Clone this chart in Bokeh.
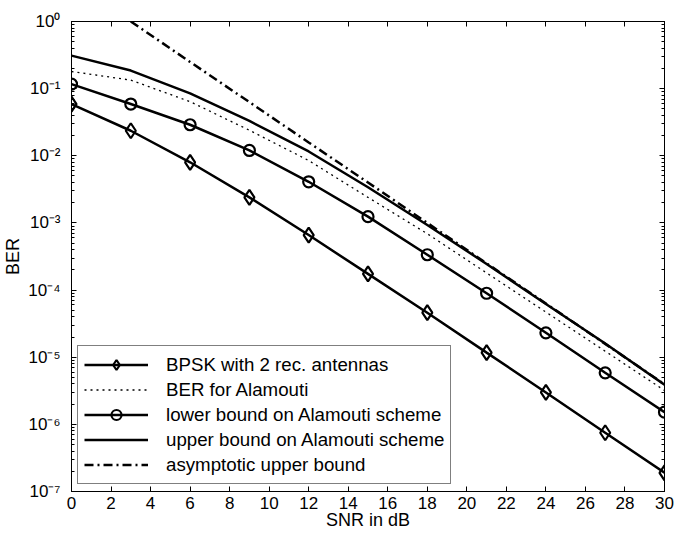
from bokeh.plotting import figure
from bokeh.models import (FixedTicker, LinearAxis, LogAxis, CustomJSTickFormatter,
                          Legend, LegendItem, Range1d)
from bokeh.embed import file_html
from bokeh.resources import INLINE

# ---- data ----
snr_db = [0, 3, 6, 9, 12, 15, 18, 21, 24, 27, 30]
ber_bpsk_2rx = [0.059, 0.0236, 0.0080, 0.0024, 6.6e-4, 1.74e-4, 4.6e-5, 1.17e-5, 2.99e-6, 7.5e-7, 1.9e-7]
ber_alamouti = [0.18, 0.134, 0.064, 0.024, 0.0085, 0.0024, 6.9e-4, 1.8e-4, 4.7e-5, 1.23e-5, 3.2e-6]
lower_bound = [0.117, 0.059, 0.029, 0.0120, 0.0041, 0.00124, 3.36e-4, 8.96e-5, 2.31e-5, 5.86e-6, 1.52e-6]
upper_bound = [0.31, 0.186, 0.085, 0.033, 0.0116, 0.0034, 9.3e-4, 2.45e-4, 6.2e-5, 1.6e-5, 3.9e-6]
asym_snr_db = [3, 6, 9, 12, 15, 18, 21, 24, 27, 30]
asym_upper = [1.0, 0.25, 0.063, 0.0158, 0.0040, 1.0e-3, 2.5e-4, 6.3e-5, 1.58e-5, 3.95e-6]

labels = ["BPSK with 2 rec. antennas", "BER for Alamouti", "lower bound on Alamouti scheme",
          "upper bound on Alamouti scheme", "asymptotic upper bound"]

x_ticks = list(range(0, 31, 2))
y_ticks = [1e-7, 1e-6, 1e-5, 1e-4, 1e-3, 1e-2, 1e-1, 1.0]
y_minor = [m * 10.0 ** e for e in range(-7, 0) for m in range(2, 10)]

FONT = "Liberation Sans"

p = figure(width=674, height=535, x_range=Range1d(0, 30), y_range=Range1d(1e-7, 1),
           y_axis_type="log", output_backend="svg", toolbar_location=None,
           min_border_left=69, min_border_right=10, min_border_top=21, min_border_bottom=44)
p.background_fill_color = "white"
p.border_fill_color = "white"
p.outline_line_color = "black"
p.outline_line_width = 1
p.xgrid.visible = False
p.ygrid.visible = False

sup_js = """
const sup = {'-':'\u207b','0':'\u2070','1':'\u00b9','2':'\u00b2','3':'\u00b3','4':'\u2074',
             '5':'\u2075','6':'\u2076','7':'\u2077','8':'\u2078','9':'\u2079'};
const e = Math.round(Math.log10(tick));
return '10' + String(e).split('').map(c => sup[c]).join('');
"""

def style_axis(ax, show_labels):
    ax.axis_line_color = "black"
    ax.major_tick_in = 5
    ax.major_tick_out = 0
    ax.minor_tick_in = 3
    ax.minor_tick_out = 0
    ax.major_tick_line_color = "black"
    ax.minor_tick_line_color = "black"
    ax.major_label_text_font = FONT
    ax.major_label_text_font_size = "17px"
    ax.major_label_text_color = "black"
    ax.axis_label_text_font = FONT
    ax.axis_label_text_font_size = "18px"
    ax.axis_label_text_font_style = "normal"
    ax.axis_label_text_color = "black"
    if not show_labels:
        ax.formatter = CustomJSTickFormatter(code="return '';")
        ax.major_label_text_font_size = "0px"
        ax.major_label_standoff = 0

xt = FixedTicker(ticks=x_ticks, minor_ticks=[])
yt = FixedTicker(ticks=y_ticks, minor_ticks=y_minor)

xa = p.xaxis[0]
xa.ticker = xt
style_axis(xa, True)
xa.axis_label = "SNR in dB"
xa.major_label_standoff = 5
xa.axis_label_standoff = -2

ya = p.yaxis[0]
ya.ticker = yt
style_axis(ya, True)
ya.formatter = CustomJSTickFormatter(code=sup_js)
ya.axis_label = "BER"
ya.major_label_standoff = 11
ya.axis_label_standoff = 2

top_ax = LinearAxis(ticker=xt)
style_axis(top_ax, False)
p.add_layout(top_ax, "above")
right_ax = LogAxis(ticker=yt)
style_axis(right_ax, False)
p.add_layout(right_ax, "right")

# ---- series ----
r_bpsk_l = p.line(snr_db, ber_bpsk_2rx, line_color="black", line_width=2.5)
r_bpsk_m = p.scatter(snr_db, ber_bpsk_2rx, marker="diamond", size=15, line_color="black",
                     line_width=2.2, fill_color=None)
r_ala = p.line(snr_db, ber_alamouti, line_color="black", line_width=1.3, line_dash="2 4")
r_low_l = p.line(snr_db, lower_bound, line_color="black", line_width=2.5)
r_low_m = p.scatter(snr_db, lower_bound, marker="circle", size=11, line_color="black",
                    line_width=2.2, fill_color=None)
r_up = p.line(snr_db, upper_bound, line_color="black", line_width=2.5)
r_asym = p.line(asym_snr_db, asym_upper, line_color="black", line_width=2.5, line_dash="9 4 2 4")

legend = Legend(items=[
    LegendItem(label=labels[0], renderers=[r_bpsk_l, r_bpsk_m]),
    LegendItem(label=labels[1], renderers=[r_ala]),
    LegendItem(label=labels[2], renderers=[r_low_l, r_low_m]),
    LegendItem(label=labels[3], renderers=[r_up]),
    LegendItem(label=labels[4], renderers=[r_asym]),
], location=(6, 7))
legend.border_line_color = "black"
legend.border_line_width = 1
legend.background_fill_color = "white"
legend.background_fill_alpha = 1
legend.label_text_font = FONT
legend.label_text_font_size = "18.7px"
legend.label_text_color = "black"
legend.glyph_width = 64
legend.glyph_height = 25
legend.label_height = 25
legend.spacing = 0
legend.padding = 6
legend.margin = 0
legend.label_standoff = 18
p.add_layout(legend)

open("out.html", "w").write(file_html(p, INLINE))
